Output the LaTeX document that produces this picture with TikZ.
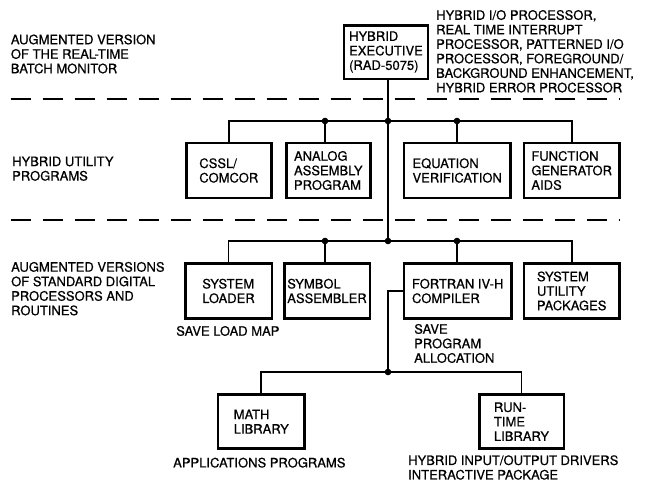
\documentclass[tikz,border=0pt]{standalone}
\usepackage{fontspec}
\setmainfont[FakeBold=0.6]{TeX Gyre Heros}
\begin{document}
\begin{tikzpicture}[x=1pt,y=-1pt,line cap=round,
    font=\fontsize{13}{14.5}\selectfont,
    prog/.style={draw,line width=2.5pt,align=left,inner sep=0pt,minimum height=55pt},
    wire/.style={line width=1.8pt},
    sep/.style={line width=2pt,dash pattern=on 20pt off 12pt,line cap=butt},
    lab/.style={align=left,anchor=west,inner sep=0pt},
    joint/.style={fill=black}]
    \useasboundingbox (0,0) rectangle (654,482);
    % level separators
    \draw[sep] (10.7,99) -- (620,99);
    \draw[sep] (10.7,220) -- (620,220);
    % boxes
    \node[prog,minimum width=84pt,minimum height=53.5pt] (exe) at (386,52) {HYBRID\\EXECUTIVE\\(RAD-5075)};
    \node[prog,minimum width=85pt] (cssl) at (228.8,170.5) {CSSL/\\COMCOR};
    \node[prog,minimum width=84pt] (asm) at (328.3,170.5) {ANALOG\\ASSEMBLY\\PROGRAM};
    \node[prog,minimum width=106.5pt] (eqv) at (457.2,170.5) {EQUATION\\VERIFICATION};
    \node[prog,minimum width=95.5pt] (fga) at (571.7,170.5) {FUNCTION\\GENERATOR\\AIDS};
    \node[prog,minimum width=86.5pt] (loader) at (228.5,291) {SYSTEM\\LOADER};
    \node[prog,minimum width=85.5pt] (symasm) at (327,291) {SYMBOL\\ASSEMBLER};
    \node[prog,minimum width=107.5pt] (fortran) at (457.7,291) {FORTRAN IV-H\\COMPILER};
    \node[prog,minimum width=95.5pt] (sysutil) at (571.7,291) {SYSTEM\\UTILITY\\PACKAGES};
    \node[prog,minimum width=86.8pt,minimum height=54pt] (mathlib) at (261.3,421.7) {MATH\\LIBRARY};
    \node[prog,minimum width=84.5pt,minimum height=54pt] (rtlib) at (521.5,421.7) {RUN-\\TIME\\LIBRARY};
    % junctions
    \coordinate (t1) at (388,121);
    \coordinate (t2) at (388,241);
    \coordinate (t3) at (388,372);
    \coordinate (l1) at (325,121);
    \coordinate (r1) at (457,121);
    \coordinate (l2) at (325,241);
    \coordinate (r2) at (457,241);
    % connectors
    \draw[wire] (t2 |- exe.south) -- (t2);
    \draw[wire] (cssl.north) |- (t1) -| (fga.north);
    \draw[wire] (l1) -- (l1 |- asm.north);
    \draw[wire] (r1) -- (r1 |- eqv.north);
    \draw[wire] (loader.north) |- (t2) -| (sysutil.north);
    \draw[wire] (l2) -- (l2 |- symasm.north);
    \draw[wire] (r2) -- (r2 |- fortran.north);
    \draw[wire] (fortran.west) -| (t3);
    \draw[wire] (mathlib.north) |- (t3) -| (rtlib.north);
    \foreach \p in {t1,t2,t3,l1,r1,l2,r2}
      \fill[joint] (\p) circle (3.3pt);
    % notes
    \node[lab] (monitor) at (10.7,54) {AUGMENTED VERSION\\OF THE REAL-TIME\\BATCH MONITOR};
    \node[lab] (utility) at (12,168.7) {HYBRID UTILITY\\PROGRAMS};
    \node[lab] (standard) at (11,288.7) {AUGMENTED VERSIONS\\OF STANDARD DIGITAL\\PROCESSORS AND\\ROUTINES};
    \node[lab] (exenote) at (436,51.3) {HYBRID I/O PROCESSOR,\\REAL TIME INTERRUPT\\PROCESSOR, PATTERNED I/O\\PROCESSOR, FOREGROUND/\\BACKGROUND ENHANCEMENT,\\HYBRID ERROR PROCESSOR};
    \node[lab] (mapnote) at (176,331) {SAVE LOAD MAP};
    \node[lab] (allocnote) at (414,343.5) {SAVE\\PROGRAM\\ALLOCATION};
    \node[lab] (appnote) at (173,462.7) {APPLICATIONS PROGRAMS};
    \node[lab] (ionote) at (408,467.5) {HYBRID INPUT/OUTPUT DRIVERS\\INTERACTIVE PACKAGE};
\end{tikzpicture}
\end{document}
